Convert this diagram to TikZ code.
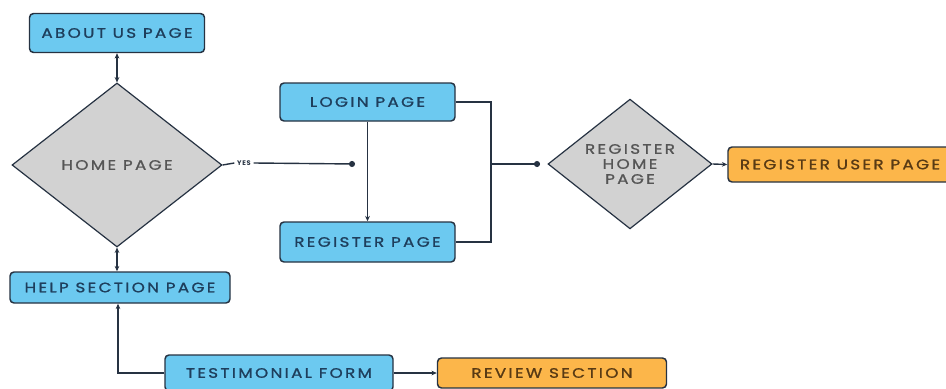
\documentclass[tikz,border=0pt]{standalone}
\usepackage{fontspec}
\setmainfont{Poppins}[LetterSpace=17, FakeStretch=1.22, FakeBold=1.2]
\newfontfamily\yesfont{Poppins}[LetterSpace=10]
\usetikzlibrary{arrows.meta,shapes.geometric}
\definecolor{pageblue}{RGB}{108,201,240}
\definecolor{pageorange}{RGB}{252,182,74}
\definecolor{pagegray}{RGB}{210,210,210}
\definecolor{pageline}{RGB}{38,50,66}
\definecolor{bluetext}{RGB}{30,62,92}
\definecolor{browntext}{RGB}{88,58,20}
\definecolor{graytext}{RGB}{85,85,85}
\tikzset{
	pagebox/.style={draw=pageline, line width=1.1pt, rounded corners=3pt, fill=pageblue,
		text=bluetext, font=\fontsize{10.3}{12}\selectfont, inner sep=0pt},
	endbox/.style={pagebox, fill=pageorange, text=browntext},
	decision/.style={draw=pageline, line width=0.9pt, diamond, fill=pagegray,
		text=graytext, font=\fontsize{10.3}{11.25}\selectfont, inner sep=0pt, align=center},
	link/.style={draw=pageline, line width=1.05pt},
	arr/.style={link, -{Stealth[length=4pt,width=3.5pt]}},
	twoway/.style={link, {Stealth[length=4pt,width=3.5pt]}-{Stealth[length=4pt,width=3.5pt]}},
	dotend/.style={link, -{Circle[length=4.5pt]}}
}

\begin{document}
\begin{tikzpicture}[x=0.75pt, y=-0.75pt]
			%%%%% START %%%%%
			\useasboundingbox[fill=white] (0, 0) rectangle (946, 389);
			
			% left column
			\node[pagebox, minimum width=131.25pt, minimum height=29.25pt] (about) at (117, 33) {ABOUT US PAGE};
			\node[decision, minimum width=157.5pt, minimum height=123pt] (home) at (117, 165) {HOME PAGE};
			\node[pagebox, minimum width=165pt, minimum height=23.25pt] (help) at (120, 287.5) {HELP SECTION PAGE};
			
			% bottom row
			\node[pagebox, minimum width=171pt, minimum height=27pt] (testi) at (279, 373) {TESTIMONIAL FORM};
			\node[endbox, minimum width=171.75pt, minimum height=22.5pt] (review) at (552, 373) {REVIEW SECTION};
			
			% middle column
			\node[pagebox, minimum width=131.25pt, minimum height=28.5pt] (login) at (367.5, 102) {LOGIN PAGE};
			\node[pagebox, minimum width=131.25pt, minimum height=30pt] (regpage) at (367.5, 242) {REGISTER PAGE};
			
			% right side
			\node[decision, minimum width=123pt, minimum height=73.5pt] (reghome) at (630, 164) {REGISTER\\HOME\\PAGE};
			\node[endbox, minimum width=168pt, minimum height=26.25pt] (reguser) at (840, 164.5) {REGISTER USER PAGE};
			
			\node[text=pageline, font=\yesfont\fontsize{5}{6}\selectfont\bfseries, inner sep=2pt] (yes) at (244, 163) {YES};
			\coordinate (yesdot) at (355, 164);
			\coordinate (brk) at (491, 164);
			\coordinate (regdot) at (540, 164);
			
			% connectors
			\draw[twoway] (about) -- (home.north);
			\draw[twoway] (home.south) -- (help.north -| home.south);
			\draw[arr] (testi.west) -| ([xshift=-1.5pt]help.south);
			\draw[arr] (testi) -- (review);
			\draw[link] (home.east) -- (yes.west);
			\draw[dotend] (yes.east) -- (yesdot);
			\draw[arr] (login) -- (regpage);
			\draw[link] (login.east) -| (brk) |- (regpage.east);
			\draw[dotend] (brk) -- (regdot);
			\draw[arr] (reghome.east) -- (reguser.west);
			
			%%%%% END %%%%%
		\end{tikzpicture}
\end{document}
